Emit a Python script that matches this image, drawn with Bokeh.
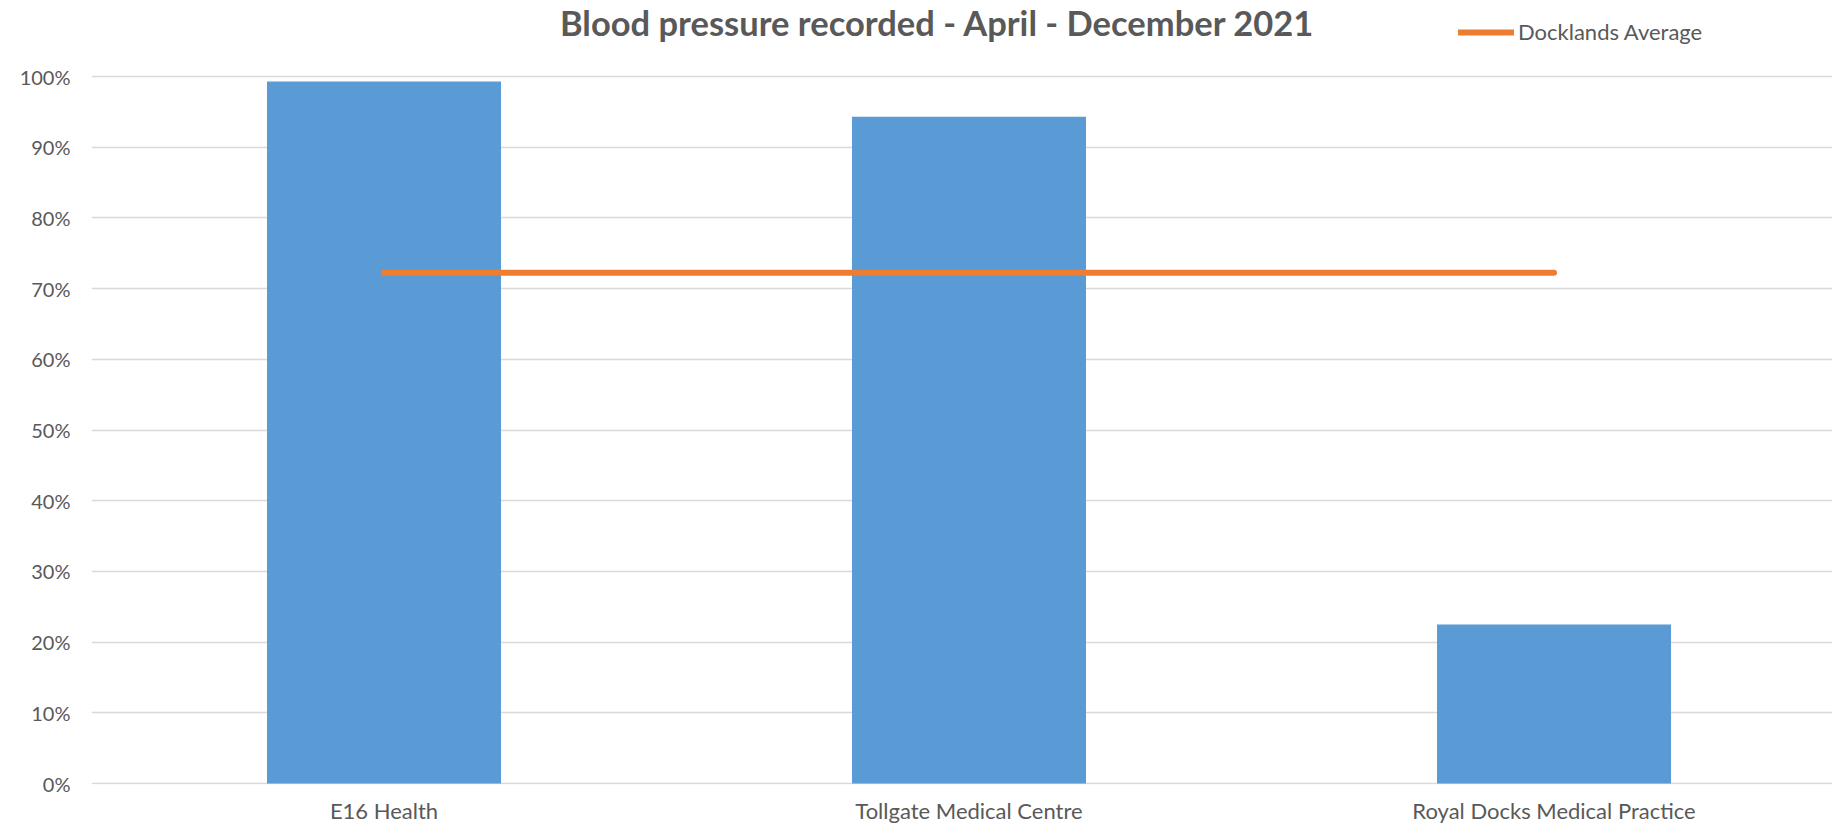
from bokeh.plotting import figure
from bokeh.models import FixedTicker, NumeralTickFormatter, Range1d, Label, Legend, LegendItem, ColumnDataSource
from bokeh.embed import file_html
from bokeh.resources import INLINE

# ---- data ----
categories = ["E16 Health", "Tollgate Medical Centre", "Royal Docks Medical Practice"]
bp_recorded = [0.993, 0.943, 0.225]
docklands_average = [0.7225, 0.7225, 0.7225]
y_ticks = [0.0, 0.1, 0.2, 0.3, 0.4, 0.5, 0.6, 0.7, 0.8, 0.9, 1.0]
title_text = "Blood pressure recorded - April - December 2021"
legend_text = "Docklands Average"

TEXT = "#595959"
FONT = "Lato"

xs = list(range(len(categories)))

W, H = 1832, 826
p = figure(width=W, height=H, output_backend="svg", toolbar_location=None,
           x_range=Range1d(-0.5, -0.5 + 1741 / 585), y_range=Range1d(-1 / 707, 783 / 707),
           min_border_left=91, min_border_right=0, min_border_top=0, min_border_bottom=42)
p.outline_line_color = None
p.background_fill_color = "white"
p.border_fill_color = "white"

src = ColumnDataSource(dict(x=xs, top=bp_recorded, avg=docklands_average))
p.vbar(x="x", top="top", bottom=0, width=0.4, source=src,
       fill_color="#5b9bd5", line_color=None)
avg_r = p.line(x="x", y="avg", source=src, line_color="#ed7d31", line_width=6, line_cap="round")

# axes
p.xaxis.ticker = FixedTicker(ticks=xs)
p.xaxis.major_label_overrides = {i: c for i, c in zip(xs, categories)}
p.yaxis.ticker = FixedTicker(ticks=y_ticks)
p.yaxis.formatter = NumeralTickFormatter(format="0%")
for ax in (p.xaxis, p.yaxis):
    ax.axis_line_color = None
    ax.major_tick_line_color = None
    ax.minor_tick_line_color = None
    ax.major_tick_out = 0
    ax.major_tick_in = 0
    ax.major_label_text_font = FONT
    ax.major_label_text_color = TEXT
p.xaxis.major_label_text_font_size = "22px"
p.yaxis.major_label_text_font_size = "20px"
p.xaxis.major_label_standoff = 12
p.yaxis.major_label_standoff = 21

p.xgrid.grid_line_color = None
p.ygrid.ticker = FixedTicker(ticks=y_ticks)
p.ygrid.grid_line_color = "#d9d9d9"
p.ygrid.grid_line_width = 1.5

# title
p.add_layout(Label(x=846, y=762, x_units="screen", y_units="screen", text=title_text,
                   text_font=FONT, text_font_style="bold", text_font_size="34.5px",
                   text_color=TEXT, text_align="center", text_baseline="middle"))

# legend
legend = Legend(items=[LegendItem(label=legend_text, renderers=[avg_r])],
                location=(1367, 739), orientation="horizontal",
                padding=0, margin=0, border_line_color=None, background_fill_alpha=0,
                glyph_width=56, glyph_height=22, label_standoff=4,
                label_text_font=FONT, label_text_font_size="22px", label_text_color=TEXT)
p.add_layout(legend, "center")

open("out.html", "w").write(file_html(p, INLINE))
